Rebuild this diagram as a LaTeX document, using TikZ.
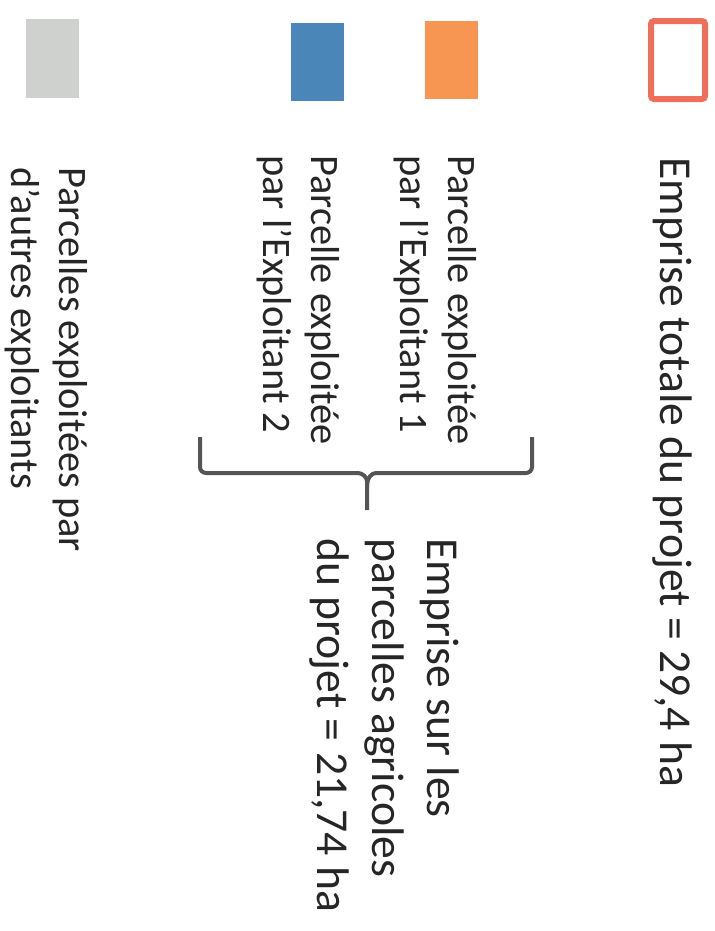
\documentclass[tikz,border=0pt]{standalone}
\usepackage{fontspec}
\setmainfont{Carlito}
\definecolor{tot}{RGB}{239, 112, 90}
\definecolor{ex1}{RGB}{247, 150, 82}
\definecolor{ex2}{RGB}{74, 134, 183}
\definecolor{oth}{RGB}{206, 209, 206}
\definecolor{brc}{RGB}{85, 85, 85}

\begin{document}
\begin{tikzpicture}[x=0.02cm, y=-0.02cm,
    lbl/.style={rotate=-90, anchor=north west, inner sep=0pt, align=left,
      text=black!85, font=\fontsize{23}{27.3}\selectfont},
    big/.style={lbl, font=\fontsize{26}{31.3}\selectfont},
    brace/.style={brc, line width=0.08cm, rounded corners=0.12cm}]
  \useasboundingbox (0,0) rectangle (715,931);
  % swatches
  \draw[color=tot, line width=0.12cm, rounded corners=0.06cm] (651,21) rectangle (705,99);
  \fill[color=ex1] (425,21) rectangle (478,99);
  \fill[color=ex2] (291,23) rectangle (344,101);
  \fill[color=oth] (26,19) rectangle (79,98);
  % labels
  \node[big] (tot) at (693,157) {Emprise totale du projet = 29,4 ha};
  \node[lbl] (ex1) at (477,155) {Parcelle exploitée\\par l’Exploitant 1};
  \node[lbl] (ex2) at (340,155) {Parcelle exploitée\\par l’Exploitant 2};
  \node[lbl] (oth) at (88,167) {Parcelles exploitées par\\d’autres exploitants};
  \node[big] (agr) at (460,538) {Emprise sur les\\parcelles agricoles\\du projet = 21,74 ha};
  % brace
  \coordinate (bl) at (200,437);
  \coordinate (br) at (532,437);
  \coordinate (tip) at (367,510);
  \draw[brace] (bl) -- (200,473) -- (352,473) .. controls (362,473) and (367,477) .. (367,487) -- (tip);
  \draw[brace] (br) -- (532,473) -- (382,473) .. controls (372,473) and (367,477) .. (367,487);
\end{tikzpicture}
\end{document}
